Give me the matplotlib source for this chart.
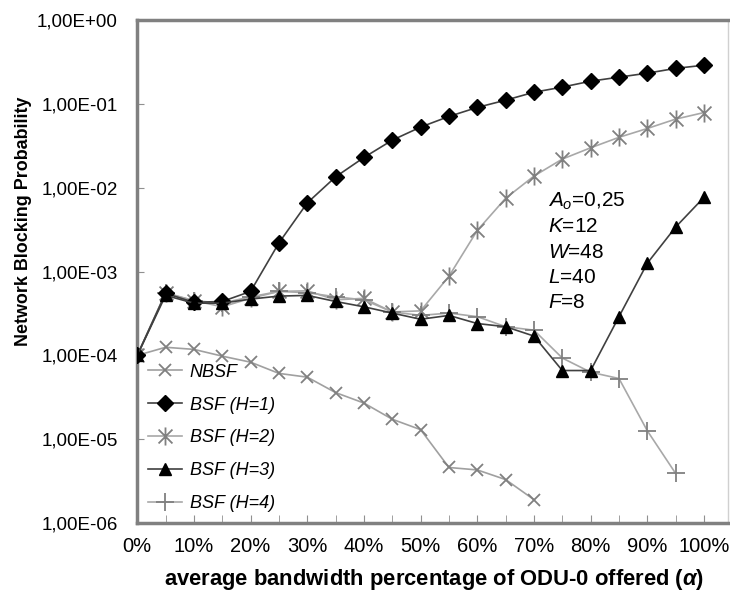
import matplotlib
matplotlib.use("Agg")
import matplotlib.pyplot as plt
from matplotlib.path import Path
from matplotlib.ticker import FuncFormatter, MultipleLocator, FixedLocator

plt.rcParams["font.family"] = ["Liberation Sans", "DejaVu Sans"]
plt.rcParams["mathtext.fontset"] = "custom"
plt.rcParams["mathtext.it"] = "Liberation Sans:italic"
plt.rcParams["mathtext.rm"] = "Liberation Sans"
plt.rcParams["mathtext.bfit"] = "Liberation Sans:italic:bold"

# offered percentage of ODU-0 bandwidth
alpha = [0, 5, 10, 15, 20, 25, 30, 35, 40, 45, 50,
         55, 60, 65, 70, 75, 80, 85, 90, 95, 100]

nbsf = [1.0e-4, 1.25e-4, 1.18e-4, 9.8e-5, 8.3e-5, 6.1e-5, 5.5e-5, 3.6e-5,
        2.7e-5, 1.73e-5, 1.3e-5, 4.6e-6, 4.3e-6, 3.3e-6, 1.9e-6]
bsf_h1 = [1.0e-4, 5.5e-4, 4.3e-4, 4.4e-4, 5.8e-4, 2.2e-3, 6.6e-3, 1.35e-2,
          2.3e-2, 3.7e-2, 5.3e-2, 7.1e-2, 9.1e-2, 0.111, 0.138, 0.159,
          0.187, 0.209, 0.233, 0.266, 0.29]
bsf_h2 = [1.0e-4, 5.6e-4, 4.5e-4, 3.8e-4, 4.8e-4, 5.8e-4, 5.9e-4, 4.6e-4,
          4.8e-4, 3.3e-4, 3.4e-4, 8.8e-4, 3.1e-3, 7.5e-3, 1.38e-2, 2.2e-2,
          3.0e-2, 4.0e-2, 5.1e-2, 6.6e-2, 7.9e-2]
bsf_h3 = [1.0e-4, 5.2e-4, 4.2e-4, 4.2e-4, 4.7e-4, 5.1e-4, 5.2e-4, 4.4e-4,
          3.8e-4, 3.2e-4, 2.7e-4, 3.0e-4, 2.4e-4, 2.2e-4, 1.7e-4, 6.6e-5,
          6.6e-5, 2.9e-4, 1.26e-3, 3.4e-3, 7.7e-3]
bsf_h4 = [1.0e-4, 5.5e-4, 4.5e-4, 4.2e-4, 5.0e-4, 5.8e-4, 5.6e-4, 5.0e-4,
          4.6e-4, 3.3e-4, 3.0e-4, 3.2e-4, 2.9e-4, 2.2e-4, 2.0e-4, 9.3e-5,
          6.3e-5, 5.3e-5, 1.26e-5, 3.9e-6]

params_lines = ["$A_o$=0,25", "$K$=12", "$W$=48", "$L$=40", "$F$=8"]

# excel-style asterisk: an x with a vertical bar through it
star = Path([(-1, -1), (1, 1), (-1, 1), (1, -1), (0, -1.3), (0, 1.3)],
            [Path.MOVETO, Path.LINETO, Path.MOVETO, Path.LINETO,
             Path.MOVETO, Path.LINETO])

fig = plt.figure(figsize=(7.3, 5.93), dpi=100)
ax = fig.add_axes([0.188, 0.118, 0.809, 0.848])

ax.plot(alpha[:len(nbsf)], nbsf, color="#a0a0a0", lw=1.2, marker="x",
        ms=8, mec="#808080", mew=1.3, label="NBSF", zorder=2)
ax.plot(alpha, bsf_h1, color="#404040", lw=1.2, marker="D", ms=8.5,
        mfc="black", mec="black", label="BSF (H=1)", zorder=4)
ax.plot(alpha, bsf_h2, color="#a8a8a8", lw=1.2, marker=star, ms=13,
        mec="#808080", mew=1.3, label="BSF (H=2)", zorder=3)
ax.plot(alpha, bsf_h3, color="#404040", lw=1.2, marker="^", ms=8,
        mfc="black", mec="black", label="BSF (H=3)", zorder=5)
ax.plot(alpha[:len(bsf_h4)], bsf_h4, color="#a8a8a8", lw=1.2, marker="+",
        ms=13, mec="#808080", mew=1.3, label="BSF (H=4)", zorder=3)

ax.set_yscale("log")
ax.set_ylim(1e-6, 1.0)
ax.set_xlim(0, 104.2)
ax.yaxis.set_major_locator(FixedLocator([10.0 ** k for k in range(-6, 1)]))
ax.yaxis.set_minor_locator(FixedLocator([]))
ax.yaxis.set_major_formatter(FuncFormatter(
    lambda v, _: ("%.2E" % v).replace(".", ",")))
ax.xaxis.set_major_locator(MultipleLocator(10))
ax.xaxis.set_minor_locator(MultipleLocator(5))
ax.xaxis.set_major_formatter(FuncFormatter(lambda v, _: "%d%%" % v))

ax.tick_params(axis="y", which="major", direction="in", length=5,
               color="#909090", labelsize=13.5, pad=14)
ax.tick_params(axis="x", which="both", direction="in", length=6,
               color="#909090", labelsize=14.5, pad=10)

for side in ["left", "bottom", "top"]:
    ax.spines[side].set_color("#808080")
    ax.spines[side].set_linewidth(2.5)
ax.spines["right"].set_color("#d0d0d0")
ax.spines["right"].set_linewidth(1)

ax.set_ylabel("Network Blocking Probability", fontsize=12.9,
              fontweight="bold")
ax.yaxis.set_label_coords(-0.178, 0.60)
ax.set_xlabel(r"average bandwidth percentage of ODU-0 offered ($\mathbfit{\alpha}$)",
              fontsize=15.8, fontweight="bold")
ax.xaxis.label.set_verticalalignment("center")
ax.xaxis.set_label_coords(0.503, -0.113)

for i, line in enumerate(params_lines):
    ax.annotate(line, xy=(0.696, 0.639), xycoords="axes fraction",
                xytext=(0, -18.2 * i), textcoords="offset points",
                fontsize=15, va="center", ha="left")

leg = ax.legend(loc="lower left", bbox_to_anchor=(0.0, 0.0), frameon=False,
                fontsize=13, handlelength=1.9, handletextpad=0.4,
                labelspacing=0.88, borderaxespad=0.2)
for t in leg.get_texts():
    t.set_fontstyle("italic")

fig.savefig("out.png", dpi=100)
